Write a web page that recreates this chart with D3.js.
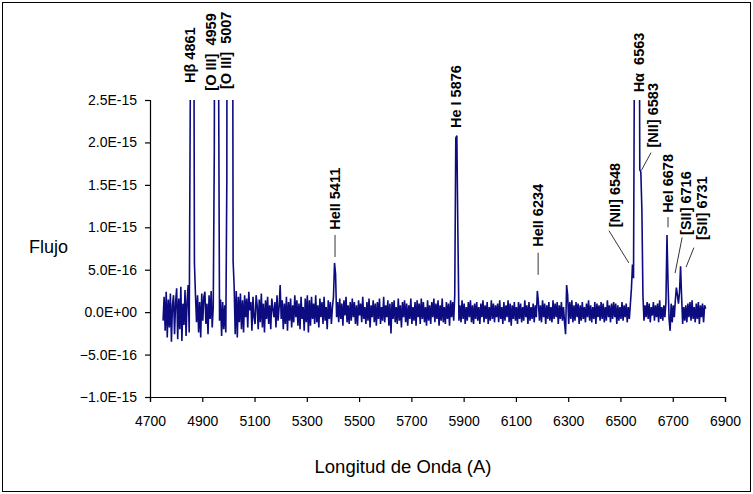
<!DOCTYPE html>
<html>
<head>
<meta charset="utf-8">
<script src="https://cdn.jsdelivr.net/npm/d3@7"></script>
<style>
  body { margin: 0; background: #fff; }
  text { font-family: "Liberation Sans", Arial, sans-serif; fill: #000; }
</style>
</head>
<body>
<svg id="chart" width="753" height="494"></svg>
<script>
// Spectrum sampling: first wavelength and step, in Angstrom
const lambdaStart = 4750;
const lambdaStep = 4;
const fluxUnit = 1e-17; // flux values below are in units of 1e-17

// Observed flux, one value per sample (80 A per row)
const flux = [
  -10, 18, -22, 24, -30, 15, -18, 22, -35, 8, 20, -26, 12, 28, -32, 16, -20, 30, -34, 10,
  -15, 26, -28, 14, 32, -24, 245, 700, 800, 600, 58, 20, -12, 20, -24, 12, -30, 22, -10, 18,
  24, -14, 10, -26, 20, -8, 25, -18, 6, 189, 800, 1200, 900, 320, -10, 15, -28, 12, -20, 8,
  -24, 158, 1800, 3000, 3500, 2400, 800, 60, 30, -26, 25, -30, 18, -12, 22, -20, 14, -24, 20, -6,
  16, -18, 24, 2, 12, -22, 18, -6, -14, 20, 8, -20, 15, -12, 22, -18, 10, -24, 14, -8,
  18, -14, 8, -20, 16, 4, -6, 12, -18, 20, -10, 6, 32, -8, 14, -20, 10, -14, 18, -22,
  12, -10, 16, -18, 8, -12, 20, -6, 14, -16, 10, -20, 18, -8, 6, -22, 16, -12, 20, -24,
  14, -16, 18, -8, 10, -14, 20, -12, 8, -18, 16, -6, 12, -14, 18, -10, 6, -20, 14, -8,
  12, -14, 6, 18, 58, 45, -6, 12, -12, 16, -8, 10, -16, 14, -4, 18, -12, 8, -14, 12,
  -10, 16, -6, 12, -14, 8, -16, 14, -4, 10, -12, 18, -8, 6, -14, 12, -10, 16, -18, 8,
  -6, 14, -12, 10, -16, 12, -8, 16, -14, 6, -10, 18, -12, 8, -6, 14, -16, 10, -25, 12,
  -8, 14, -12, 6, -14, 16, -10, 8, -18, 12, -6, 14, -12, 10, -16, 8, -8, 16, -14, 6,
  -10, 12, -16, 14, -6, 10, -14, 16, -8, 12, -12, 6, -16, 14, -10, 8, -14, 12, -6, 16,
  -12, 10, -8, 14, -16, 8, -10, 16, -12, 6, -14, 12, -8, 10, -16, 14, -6, 12, -10, 20,
  205, 208, 93, -10, 8, -12, 14, -8, 10, -14, 6, -10, 12, -6, 14, -12, 8, -14, 10, -8,
  12, -10, 6, -14, 10, -6, 14, -12, 8, -8, 12, -14, 6, -10, 14, -8, 10, -12, 8, -6,
  10, -12, 14, -8, 6, -14, 12, -10, 8, -6, 14, -12, 10, -16, 8, -8, 12, -10, 6, -14,
  12, -8, 10, -12, 6, -10, 14, -6, 8, -14, 12, -10, 6, -8, 10, -12, 8, -6, 25, 12,
  -10, 8, -12, 14, -6, 10, -14, 8, -8, 12, -10, 6, -12, 14, -8, 10, -6, 12, -14, 8,
  -8, 12, -10, 6, -12, -26, 32, 20, -14, 12, -8, 14, -12, 8, -10, 12, -6, 10, -14, 8,
  -10, 12, -8, 6, -12, 10, -6, 14, -10, 8, -12, 6, -8, 12, -14, 10, -6, 8, -10, 12,
  -8, 10, -12, 6, -10, 14, -6, 8, -12, 10, -8, 12, -6, 10, -14, 8, -10, 6, -8, 12,
  -10, 8, -6, 10, -12, 6, -8, 10, 28, 56, 40, 350, 1500, 2600, 1900, 600, 168, 165, 120, 20,
  -10, 8, -6, 12, -8, 10, -12, 6, -4, 12, -10, 8, -6, 10, -12, 14, -8, 6, -10, 8,
  -6, 12, 91, 35, -8, -22, 10, -12, 8, -6, 14, 29, 20, 10, 24, 54, 18, -14, 6, -10,
  8, -12, 10, -6, 12, -10, 14, -8, 6, -12, 10, -8, 12, -14, 8, -6, 10, -12, 8, 4
];

const xTicks = [4700, 4900, 5100, 5300, 5500, 5700, 5900, 6100, 6300, 6500, 6700, 6900];
const yTicks = [-1.0e-15, -5.0e-16, 0, 5.0e-16, 1.0e-15, 1.5e-15, 2.0e-15, 2.5e-15];

// Line identifications: text, anchor wavelength and flux at the foot of the label
const lineLabels = [
  { text: "H\u03B2 4861",    lambda: 4853, flux: 2.70e-15 },
  { text: "[O III]  4959",   lambda: 4932, flux: 2.61e-15 },
  { text: "[O III]  5007",   lambda: 4990, flux: 2.63e-15 },
  { text: "HeII 5411",       lambda: 5408, flux: 0.97e-15 },
  { text: "He I 5876",       lambda: 5871, flux: 2.17e-15 },
  { text: "HeII 6234",       lambda: 6185, flux: 0.77e-15 },
  { text: "[NII] 6548",      lambda: 6478, flux: 1.00e-15 },
  { text: "H\u03B1  6563",   lambda: 6571, flux: 2.59e-15 },
  { text: "[NII] 6583",      lambda: 6625, flux: 1.94e-15 },
  { text: "HeI 6678",        lambda: 6682, flux: 1.17e-15 },
  { text: "[SII] 6716",      lambda: 6751, flux: 0.91e-15 },
  { text: "[SII] 6731",      lambda: 6812, flux: 0.85e-15 }
];

// Leader lines from labels down to their peaks: [lambda1, flux1, lambda2, flux2]
const leaders = [
  [5408, 0.91e-15, 5408, 0.65e-15],
  [6185, 0.70e-15, 6185, 0.44e-15],
  [6456, 0.96e-15, 6532, 0.58e-15],
  [6617, 1.88e-15, 6580, 1.67e-15],
  [6682, 1.12e-15, 6682, 1.00e-15],
  [6736, 0.88e-15, 6709, 0.46e-15],
  [6781, 0.76e-15, 6751, 0.53e-15]
];

const svg = d3.select("#chart");
const W = 753, H = 494;
const plot = { left: 150, right: 725, top: 100, bottom: 397 };

svg.append("rect").attr("width", W).attr("height", H).attr("fill", "#fff");
svg.append("rect")
  .attr("x", 2.5).attr("y", 2.5).attr("width", W - 5).attr("height", H - 5)
  .attr("fill", "none").attr("stroke", "#000").attr("stroke-width", 1);

const x = d3.scaleLinear().domain([4700, 6900]).range([plot.left, plot.right]);
const y = d3.scaleLinear().domain([-1.0e-15, 2.5e-15]).range([plot.bottom, plot.top]);

const fmtExp = v => {
  const s = d3.format(".1e")(v).toUpperCase();
  return s.replace(/E([+-])(\d)$/, "E$10$2");
};

// Axes
const xAxis = d3.axisBottom(x).tickValues(xTicks).tickSize(5).tickPadding(14)
  .tickFormat(d3.format("d"));
const yAxis = d3.axisLeft(y).tickValues(yTicks).tickSize(5).tickPadding(8)
  .tickFormat(fmtExp);

const gx = svg.append("g").attr("transform", `translate(0,${plot.bottom})`).call(xAxis);
const gy = svg.append("g").attr("transform", `translate(${plot.left},0)`).call(yAxis);
[gx, gy].forEach(g => {
  g.select(".domain").attr("stroke", "#000").attr("stroke-width", 1.2);
  g.selectAll(".tick line").attr("stroke", "#000").attr("stroke-width", 1.2);
  g.selectAll(".tick text").attr("font-size", 14).attr("fill", "#000")
    .attr("font-family", "'Liberation Sans', Arial, sans-serif");
});

// Spectrum
svg.append("clipPath").attr("id", "plot-clip")
  .append("rect")
  .attr("x", plot.left).attr("y", plot.top)
  .attr("width", plot.right - plot.left).attr("height", plot.bottom - plot.top);

const spectrum = flux.map((f, i) => ({ lambda: lambdaStart + i * lambdaStep, f: f * fluxUnit }));
const line = d3.line().x(d => x(d.lambda)).y(d => y(d.f));

svg.append("path")
  .datum(spectrum)
  .attr("clip-path", "url(#plot-clip)")
  .attr("d", line)
  .attr("fill", "none")
  .attr("stroke", "#0c0c80")
  .attr("stroke-width", 1.6)
  .attr("stroke-linejoin", "miter");

// Leader lines
svg.append("g").selectAll("line").data(leaders).join("line")
  .attr("x1", d => x(d[0])).attr("y1", d => y(d[1]))
  .attr("x2", d => x(d[2])).attr("y2", d => y(d[3]))
  .attr("stroke", "#000").attr("stroke-width", 0.8);

// Rotated line labels
svg.append("g").selectAll("text").data(lineLabels).join("text")
  .attr("transform", d => `translate(${x(d.lambda)},${y(d.flux)}) rotate(-90)`)
  .attr("dy", "0.35em")
  .attr("font-size", 14.5)
  .attr("font-weight", "bold")
  .style("white-space", "pre")
  .text(d => d.text);

// Axis titles
svg.append("text")
  .attr("x", 29).attr("y", 253)
  .attr("font-size", 18)
  .text("Flujo");

svg.append("text")
  .attr("x", 403).attr("y", 473)
  .attr("text-anchor", "middle")
  .attr("font-size", 18.5)
  .text("Longitud de Onda (A)");
</script>
</body>
</html>
